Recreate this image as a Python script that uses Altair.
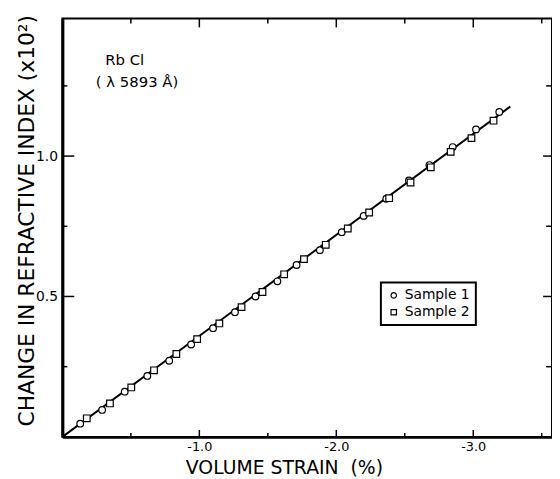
import altair as alt
import pandas as pd

# ---- data ----
s1_strain = [-0.13, -0.29, -0.455, -0.62, -0.78, -0.94, -1.10, -1.26, -1.41, -1.57,
             -1.71, -1.88, -2.04, -2.20, -2.365, -2.53, -2.68, -2.85, -3.02, -3.19]
s1_dn = [0.047, 0.096, 0.161, 0.217, 0.271, 0.329, 0.387, 0.444, 0.500, 0.554,
         0.612, 0.665, 0.729, 0.787, 0.848, 0.913, 0.968, 1.032, 1.095, 1.157]
s2_strain = [-0.178, -0.347, -0.503, -0.669, -0.832, -0.984, -1.146, -1.308, -1.461, -1.619,
             -1.764, -1.923, -2.084, -2.240, -2.386, -2.542, -2.690, -2.835, -2.987, -3.148]
s2_dn = [0.066, 0.119, 0.176, 0.237, 0.295, 0.348, 0.404, 0.462, 0.516, 0.579,
         0.633, 0.684, 0.742, 0.799, 0.850, 0.906, 0.960, 1.015, 1.064, 1.126]
fit_strain = [0.0, -3.27]
fit_dn = [0.0, 1.176]

series_names = ["Sample 1", "Sample 2"]
series_shapes = ["circle", "square"]

x_major = [-1.0, -2.0, -3.0]
x_minor = [-0.5, -1.5, -2.5, -3.5]
y_major = [0.5, 1.0]
y_minor = [0.25, 0.75, 1.25]

notes_text = ["Rb Cl", "( λ 5893 Å)"]
notes_x = [-0.455, -0.545]
notes_y = [1.342, 1.262]

W, H = 495, 423
FONT = "DejaVu Sans"

pts = pd.DataFrame({
    "x": s1_strain + s2_strain,
    "y": s1_dn + s2_dn,
    "sample": [series_names[0]] * len(s1_strain) + [series_names[1]] * len(s2_strain),
})
fit = pd.DataFrame({"x": fit_strain, "y": fit_dn})
notes = pd.DataFrame({"t": notes_text, "x": notes_x, "y": notes_y})

xs = alt.Scale(domain=[0, -3.575], nice=False, zero=False)
ys = alt.Scale(domain=[0, 1.49], nice=False, zero=False)

x_axis = alt.Axis(values=x_major, ticks=False, grid=False, domainWidth=3, domainColor="black",
                  labelExpr="'-' + format(abs(datum.value), '.1f')", labelFont=FONT,
                  labelFontSize=13, labelPadding=4, labelColor="black",
                  title="VOLUME STRAIN\u00a0 (%)", titleFont=FONT, titleFontSize=19,
                  titleFontWeight="normal", titleColor="black", titleX=224, titleY=37,
                  titleBaseline="alphabetic", titleAlign="center")
y_axis = alt.Axis(values=y_major, ticks=False, grid=False, domainWidth=3, domainColor="black",
                  format=".1f", labelFont=FONT, labelFontSize=14, labelPadding=5,
                  labelColor="black",
                  title="CHANGE IN REFRACTIVE INDEX (x10²)", titleFont=FONT, titleFontSize=22,
                  titleFontWeight="normal", titleColor="black", titleX=-36, titleY=204,
                  titleAngle=-90, titleBaseline="middle", titleAlign="center")

X = alt.X("x:Q", scale=xs, axis=x_axis)
Y = alt.Y("y:Q", scale=ys, axis=y_axis)

line = alt.Chart(fit).mark_line(color="black", strokeWidth=2).encode(x=X, y=Y)

points = alt.Chart(pts).mark_point(filled=False, fill="white", stroke="black",
                                   strokeWidth=1.2, size=45, opacity=1).encode(
    x=X, y=Y,
    shape=alt.Shape("sample:N", scale=alt.Scale(domain=series_names, range=series_shapes),
                    legend=alt.Legend(title=None, orient="none", legendX=322, legendY=267,
                                      strokeColor="black", padding=6, rowPadding=3,
                                      labelFont=FONT, labelFontSize=14, labelColor="black",
                                      symbolSize=30, symbolStrokeWidth=1.2,
                                      fillColor="white")),
)

text = alt.Chart(notes).mark_text(font=FONT, fontSize=15, color="black").encode(
    x=X, y=Y, text="t:N",
)


def xticks(vals, y0, y1):
    return alt.Chart(pd.DataFrame({"x": vals})).mark_rule(color="black", strokeWidth=1.5).encode(
        x=X, y=alt.value(y0), y2=alt.value(y1))


def yticks(vals, x0, x1):
    return alt.Chart(pd.DataFrame({"y": vals})).mark_rule(color="black", strokeWidth=1.5).encode(
        y=Y, x=alt.value(x0), x2=alt.value(x1))


ticks = [
    xticks(x_major, H, H - 7), xticks(x_minor, H, H - 4),
    xticks(x_major, 0, 9), xticks(x_minor, 0, 5),
    yticks(y_major, 0, 12), yticks(y_minor, 0, 5),
    yticks(y_major, W, W - 9), yticks(y_minor, W, W - 6),
]

chart = alt.layer(line, *ticks, points, text).properties(
    width=W, height=H,
    padding={"left": 55, "top": 8, "right": 0, "bottom": 40},
    autosize=alt.AutoSizeParams(type="none"),
).configure_view(stroke="black", strokeWidth=2).configure_legend(strokeWidth=2)

chart.save("out.html", embed_options={"renderer": "svg", "actions": False})
